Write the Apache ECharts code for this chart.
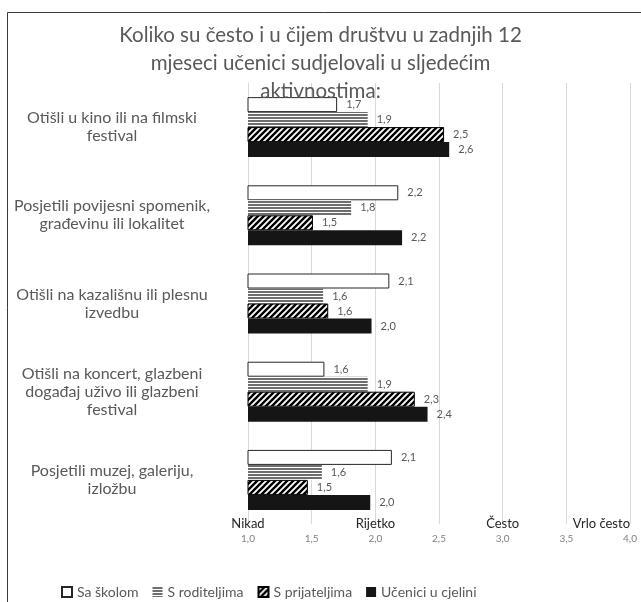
<!DOCTYPE html>
<html>
<head>
<meta charset="utf-8">
<script src="https://cdn.jsdelivr.net/npm/echarts@6/dist/echarts.min.js"></script>
<style>
  html, body { margin: 0; padding: 0; background: #fff; }
  #main { width: 641px; height: 602px; }
</style>
</head>
<body>
<div id="main"></div>
<script>
  // podaci
  const titleText = 'Koliko su često i u čijem društvu u zadnjih 12\nmjeseci učenici sudjelovali u sljedećim\naktivnostima:'
  const categories = [
    'Otišli u kino ili na filmski\nfestival',
    'Posjetili povijesni spomenik,\ngrađevinu ili lokalitet',
    'Otišli na kazališnu ili plesnu\nizvedbu',
    'Otišli na koncert, glazbeni\ndogađaj uživo ili glazbeni\nfestival',
    'Posjetili muzej, galeriju,\nizložbu'
  ]
  const seriesNames = ['Sa školom', 'S roditeljima', 'S prijateljima', 'Učenici u cjelini']
  const saSkolom = [1.70, 2.18, 2.11, 1.60, 2.13]
  const sRoditeljima = [1.94, 1.81, 1.59, 1.94, 1.58]
  const sPrijateljima = [2.54, 1.51, 1.63, 2.31, 1.47]
  const uCjelini = [2.58, 2.21, 1.97, 2.41, 1.96]
  const scaleLabels = { 1: 'Nikad', 2: 'Rijetko', 3: 'Često', 4: 'Vrlo često' }

  const FONT = 'Lato'
  const GREY = '#595959'

  // uzorci
  function stripes() {
    const c = document.createElement('canvas')
    c.width = 4
    c.height = 3
    const ctx = c.getContext('2d')
    ctx.fillStyle = '#ffffff'
    ctx.fillRect(0, 0, 4, 3)
    ctx.fillStyle = '#6e6e6e'
    ctx.fillRect(0, 0, 4, 2)
    return c
  }
  function hatch() {
    const c = document.createElement('canvas')
    c.width = 6
    c.height = 6
    const ctx = c.getContext('2d')
    ctx.fillStyle = '#ffffff'
    ctx.fillRect(0, 0, 6, 6)
    ctx.strokeStyle = '#000000'
    ctx.lineWidth = 2.4
    ctx.beginPath()
    ctx.moveTo(-1, 1); ctx.lineTo(1, -1)
    ctx.moveTo(0, 6); ctx.lineTo(6, 0)
    ctx.moveTo(5, 7); ctx.lineTo(7, 5)
    ctx.stroke()
    return c
  }

  const fmt = v => v.toFixed(1).replace('.', ',')

  function makeSeries(name, data, itemStyle) {
    return {
      name: name,
      type: 'bar',
      data: data,
      barGap: '0%',
      barCategoryGap: '32%',
      itemStyle: itemStyle,
      label: {
        show: true,
        position: 'right',
        distance: 9,
        color: GREY,
        fontFamily: FONT,
        fontSize: 11,
        formatter: p => fmt(p.value)
      }
    }
  }

  const chart = echarts.init(document.getElementById('main'))
  chart.setOption({
    animation: false,
    textStyle: { fontFamily: FONT },
    title: {
      text: titleText,
      left: 'center',
      top: 16,
      textStyle: { color: GREY, fontFamily: FONT, fontSize: 20.5, fontWeight: 'normal', lineHeight: 28 }
    },
    graphic: [{
      type: 'rect',
      shape: { x: 7.5, y: 12.5, width: 700, height: 700 },
      style: { fill: 'none', stroke: '#3a3a3a', lineWidth: 1 }
    }],
    legend: {
      data: seriesNames,
      bottom: -2,
      left: 56,
      icon: 'rect',
      itemWidth: 10,
      itemHeight: 10,
      itemGap: 14,
      textStyle: { color: GREY, fontFamily: FONT, fontSize: 14 }
    },
    grid: { left: 248, right: 11, top: 83, bottom: 78 },
    xAxis: [{
      type: 'value',
      min: 1,
      max: 4,
      interval: 0.5,
      axisLine: { show: false },
      axisTick: { show: false },
      splitLine: { lineStyle: { color: '#d9d9d9' } },
      axisLabel: { color: '#808080', fontSize: 10, margin: 10, formatter: v => fmt(v) }
    }, {
      type: 'value',
      position: 'bottom',
      min: 1,
      max: 4,
      interval: 1,
      axisLine: { show: false },
      axisTick: { show: false },
      splitLine: { show: false },
      axisLabel: {
        color: '#262626',
        fontSize: 13,
        margin: -7,
        alignMaxLabel: 'right',
        formatter: v => scaleLabels[v] || ''
      }
    }],
    yAxis: {
      type: 'category',
      data: categories,
      inverse: true,
      axisLine: { show: true, lineStyle: { color: '#d9d9d9' } },
      axisTick: { show: false },
      axisLabel: {
        color: GREY,
        fontSize: 16,
        lineHeight: 18,
        align: 'center',
        margin: 136
      }
    },
    series: [
      makeSeries(seriesNames[0], saSkolom, { color: '#ffffff', borderColor: '#262626', borderWidth: 1 }),
      makeSeries(seriesNames[1], sRoditeljima, { color: { image: stripes(), repeat: 'repeat' } }),
      makeSeries(seriesNames[2], sPrijateljima, { color: { image: hatch(), repeat: 'repeat' }, borderColor: '#000', borderWidth: 1 }),
      makeSeries(seriesNames[3], uCjelini, { color: '#151515' })
    ]
  })
</script>
</body>
</html>
